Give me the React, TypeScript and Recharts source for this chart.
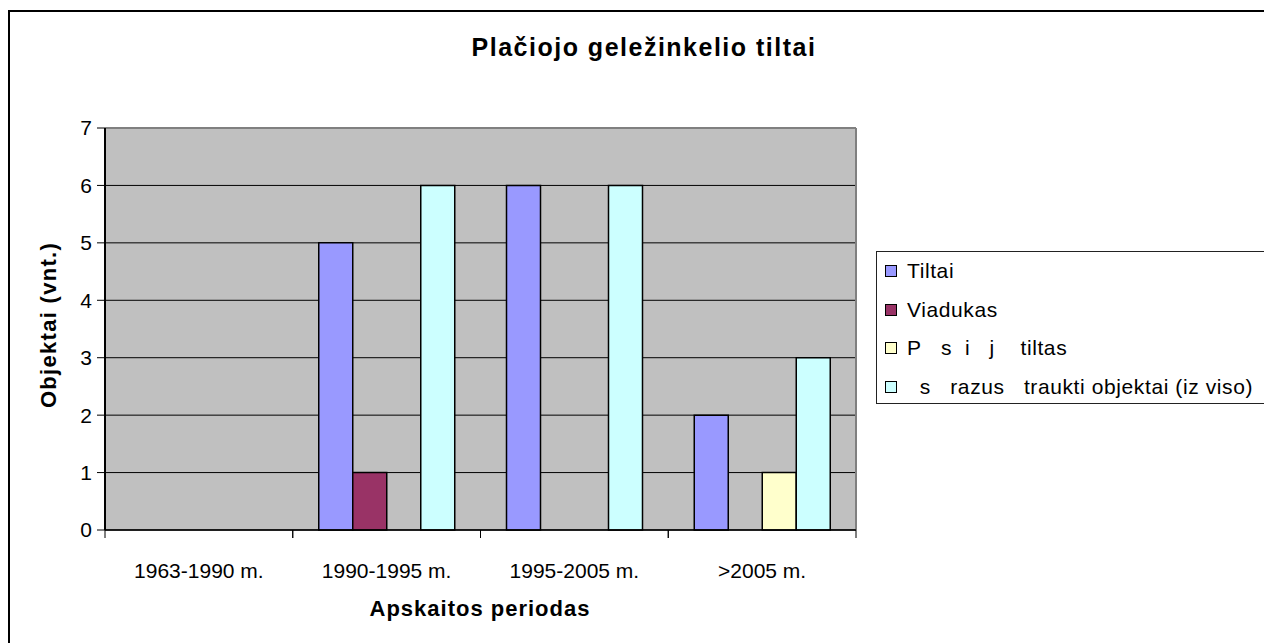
import React from "react";
import { BarChart, Bar, XAxis, YAxis, CartesianGrid } from "recharts";

const FONT = '"Liberation Sans", Arial, sans-serif';

const categories = ["1963-1990 m.", "1990-1995 m.", "1995-2005 m.", ">2005 m."];
const tiltai = [null, 5, 6, 2];
const viadukas = [null, 1, null, null];
const pesciuju = [null, null, null, 1];
const itraukti = [null, 6, 6, 3];
const yTicks = [0, 1, 2, 3, 4, 5, 6, 7];

const seriesKeys = ["tiltai", "viadukas", "pesciuju", "itraukti"];
const seriesNames = [
  "Tiltai",
  "Viadukas",
  "P\u00a0\u00a0\u00a0s\u00a0\u00a0i\u00a0\u00a0\u00a0j\u00a0\u00a0\u00a0\u00a0tiltas",
  "\u00a0\u00a0s\u00a0\u00a0\u00a0razus\u00a0\u00a0\u00a0traukti objektai (iz viso)",
];
const seriesColors = ["#9999FF", "#993366", "#FFFFCC", "#CCFFFF"];

const data = categories.map((name, i) => ({
  name,
  tiltai: tiltai[i],
  viadukas: viadukas[i],
  pesciuju: pesciuju[i],
  itraukti: itraukti[i],
}));

function CategoryTick(props: any) {
  const { x, y, payload, width, visibleTicksCount } = props;
  const half = width && visibleTicksCount ? width / visibleTicksCount / 2 : payload.offset;
  return (
    <g>
      <line x1={x - half} y1={y} x2={x - half} y2={y + 8} stroke="#000" strokeWidth={1} />
      <line x1={x + half} y1={y} x2={x + half} y2={y + 8} stroke="#000" strokeWidth={1} />
      <text x={x} y={y + 48} textAnchor="middle" fontSize={21} fontFamily={FONT} fill="#000">
        {payload.value}
      </text>
    </g>
  );
}

export default function App() {
  const W = 1264;
  const H = 643;
  const yAxisWidth = 60;
  const xAxisHeight = 40;

  return (
    <div style={{ position: "fixed", left: 0, top: 0, width: W, height: H, overflow: "hidden", background: "#fff", fontFamily: FONT }}>
      <div style={{ position: "absolute", left: 8, top: 10, width: 1300, height: 700, border: "2px solid #000", boxSizing: "border-box" }} />
      <div style={{ position: "absolute", left: 0, top: 0 }}>
        <BarChart
          width={W}
          height={H}
          data={data}
          margin={{ top: 128, right: W - 856, bottom: H - 530 - xAxisHeight, left: 105 - yAxisWidth }}
          barGap={0}
          barSize={34}
        >
          <CartesianGrid vertical={false} stroke="#000" strokeWidth={1} fill="#C0C0C0" fillOpacity={1} />
          <CartesianGrid
            stroke="#808080"
            strokeWidth={2}
            horizontalCoordinatesGenerator={({ offset }: any) => [offset.top]}
            verticalCoordinatesGenerator={({ offset }: any) => [offset.left + offset.width]}
          />
          <XAxis
            dataKey="name"
            height={xAxisHeight}
            interval={0}
            tickSize={0}
            tickMargin={0}
            tickLine={false}
            axisLine={{ stroke: "#000", strokeWidth: 1.5 }}
            tick={<CategoryTick />}
          />
          <YAxis
            type="number"
            domain={[0, 7]}
            ticks={yTicks}
            interval={0}
            width={yAxisWidth}
            tickSize={8}
            tickMargin={5}
            tickLine={{ stroke: "#000" }}
            axisLine={{ stroke: "#000", strokeWidth: 2 }}
            tick={{ fontSize: 21, fill: "#000", fontFamily: FONT }}
          />
          {seriesKeys.map((key, i) => (
            <Bar
              key={key}
              dataKey={key}
              name={seriesNames[i]}
              fill={seriesColors[i]}
              stroke="#000"
              strokeWidth={1.5}
              isAnimationActive={false}
            />
          ))}
        </BarChart>
      </div>
      <svg width={W} height={H} style={{ position: "absolute", left: 0, top: 0, pointerEvents: "none" }}>
        <text x={644} y={56} textAnchor="middle" fontSize={25} fontWeight="bold" letterSpacing={1.5} fontFamily={FONT} fill="#000">
          Plačiojo geležinkelio tiltai
        </text>
        <text
          x={48}
          y={325}
          textAnchor="middle"
          dominantBaseline="central"
          transform="rotate(-90 48 325)"
          fontSize={22}
          fontWeight="bold"
          letterSpacing={1.3}
          fontFamily={FONT}
          fill="#000"
        >
          Objektai (vnt.)
        </text>
        <text x={480} y={616} textAnchor="middle" fontSize={22} fontWeight="bold" letterSpacing={1} fontFamily={FONT} fill="#000">
          Apskaitos periodas
        </text>
      </svg>
      <div
        style={{
          position: "absolute",
          left: 876,
          top: 251,
          width: 420,
          height: 153,
          border: "1px solid #222",
          boxSizing: "border-box",
          background: "#fff",
        }}
      >
        {seriesNames.map((name, i) => (
          <div key={name} style={{ display: "flex", alignItems: "center", height: 38.5, fontSize: 21, lineHeight: "38px", letterSpacing: 0.6, whiteSpace: "nowrap" }}>
            <span
              style={{
                display: "inline-block",
                width: 10,
                height: 10,
                marginLeft: 8,
                marginRight: 10,
                background: seriesColors[i],
                border: "1px solid #000",
              }}
            />
            <span>{name}</span>
          </div>
        ))}
      </div>
    </div>
  );
}
